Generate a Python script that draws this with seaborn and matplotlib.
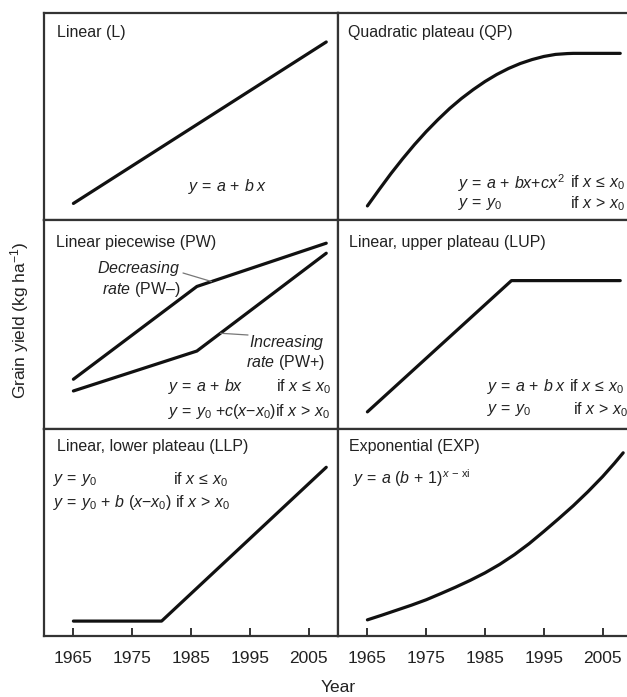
import matplotlib
matplotlib.use("Agg")
import matplotlib.pyplot as plt
import seaborn as sns
import pandas as pd
import numpy as np

# Datos (rendimiento relativo, 0-100 en cada panel)
anios_l = [1965, 2008]
valores_l = [8, 86]

anios_qp = [1965, 1967, 1969, 1971, 1973, 1975, 1977, 1979, 1981, 1983, 1985, 1987,
            1989, 1991, 1993, 1995, 1997, 1999, 2000, 2008]
valores_qp = [6.8, 14.7, 22.4, 29.6, 36.4, 42.7, 48.5, 53.9, 58.7, 63.0, 66.9, 70.3,
              73.2, 75.6, 77.5, 79.0, 80.0, 80.4, 80.5, 80.5]

anios_pw = [1965, 1986, 2008]
valores_pw_menos = [23.8, 68.2, 88.9]
valores_pw_mas = [18.2, 37.3, 84.1]

anios_lup = [1965, 1989.5, 2008]
valores_lup = [8.2, 71, 71]

anios_llp = [1965, 1980, 2008]
valores_llp = [7.2, 7.2, 81.5]

anios_exp = [1965, 1967.5, 1970, 1972.5, 1975, 1977.5, 1980, 1982.5, 1985, 1987.5,
             1990, 1992.5, 1995, 1997.5, 2000, 2002.5, 2005, 2007, 2008.5]
valores_exp = [7.8, 10.1, 12.5, 14.9, 17.5, 20.5, 23.6, 26.9, 30.5, 34.6,
               39.3, 44.6, 50.5, 56.6, 62.9, 69.7, 77.0, 83.4, 88.5]

ticks_anios = [1965, 1975, 1985, 1995, 2005]
titulos = ["Linear (L)", "Quadratic plateau (QP)", "Linear piecewise (PW)",
           "Linear, upper plateau (LUP)", "Linear, lower plateau (LLP)", "Exponential (EXP)"]

ANCHO, ALTO = 627, 697
COLOR_TEXTO = "#222222"
COLOR_MARCO = "#333333"


def configurar_estilo():
    """Estilo base del gráfico."""
    sns.set_style("white")
    plt.rcParams['font.family'] = ['Liberation Sans', 'DejaVu Sans']
    plt.rcParams['mathtext.fontset'] = 'custom'
    plt.rcParams['mathtext.rm'] = 'Liberation Sans'
    plt.rcParams['mathtext.it'] = 'Liberation Sans:italic'
    plt.rcParams['mathtext.bf'] = 'Liberation Sans:bold'


def texto(fig, px, py, s, ha='left', size=11.5, **kw):
    """Coloca texto usando coordenadas en píxeles (origen arriba a la izquierda)."""
    fig.text(px / ANCHO, 1 - py / ALTO, s, ha=ha, va='center', fontsize=size,
             color=COLOR_TEXTO, **kw)


def linea(ax, anios, valores):
    df = pd.DataFrame({'anio': anios, 'valor': valores})
    sns.lineplot(data=df, x='anio', y='valor', ax=ax, color='#111111', lw=2.3,
                 estimator=None, sort=False)


configurar_estilo()
fig = plt.figure(figsize=(ANCHO / 100, ALTO / 100), dpi=100)

# Bordes de filas y columnas (píxeles)
filas = [13, 220, 429, 636]
columnas = [44, 338, 632]

ejes = []
for f in range(3):
    for c in range(2):
        x0 = columnas[c] / ANCHO
        w = (columnas[c + 1] - columnas[c]) / ANCHO
        y0 = 1 - filas[f + 1] / ALTO
        h = (filas[f + 1] - filas[f]) / ALTO
        ax = fig.add_axes([x0, y0, w, h])
        for sp in ax.spines.values():
            sp.set_color(COLOR_MARCO)
            sp.set_linewidth(1.6)
        ejes.append(ax)

linea(ejes[0], anios_l, valores_l)
linea(ejes[1], anios_qp, valores_qp)
linea(ejes[2], anios_pw, valores_pw_menos)
linea(ejes[2], anios_pw, valores_pw_mas)
linea(ejes[3], anios_lup, valores_lup)
linea(ejes[4], anios_llp, valores_llp)
linea(ejes[5], anios_exp, valores_exp)

for i, ax in enumerate(ejes):
    ax.set_xlim(1960, 2010)
    ax.set_ylim(0, 100)
    ax.set_xlabel('')
    ax.set_ylabel('')
    ax.set_yticks([])
    if i >= 4:
        ax.set_xticks(ticks_anios)
        ax.set_xticklabels([str(t) for t in ticks_anios])
        ax.tick_params(axis='x', direction='in', length=6, width=1.4,
                       color=COLOR_MARCO, labelsize=12.5, pad=11,
                       labelcolor=COLOR_TEXTO, bottom=True)
    else:
        ax.set_xticks([])

# Títulos de los paneles
pos_titulos = [(57, 32), (348, 32), (56, 242), (349, 242), (57, 447), (349, 447)]
for t, (px, py) in zip(titulos, pos_titulos):
    texto(fig, px, py, t)

# Ecuaciones
texto(fig, 188, 187, r"$y\,=\,a\,+\,b\;x$")

texto(fig, 458, 183, r"$y\,=\,a\,+\,bx{+}cx^2$")
texto(fig, 570, 183, r"if $x\,\leq\,x_0$")
texto(fig, 458, 204, r"$y\,=\,y_0$")
texto(fig, 570, 204, r"if $x\,>\,x_0$")

texto(fig, 180, 268, r"$\mathit{Decreasing}$", ha='right')
texto(fig, 180, 290, r"$\mathit{rate}$ (PW–)", ha='right')
texto(fig, 325, 342, r"$\mathit{Increasing}$", ha='right')
texto(fig, 325, 363, r"$\mathit{rate}$ (PW+)", ha='right')
texto(fig, 168, 387, r"$y\,=\,a\,+\,bx$")
texto(fig, 276, 387, r"if $x\,\leq\,x_0$")
texto(fig, 168, 411, r"$y\,=\,y_0\ {+}c(x{-}x_0)$if $x\,>\,x_0$")

texto(fig, 487, 387, r"$y\,=\,a\,+\,b\;x$")
texto(fig, 569, 387, r"if $x\,\leq\,x_0$")
texto(fig, 487, 410, r"$y\,=\,y_0$")
texto(fig, 573, 410, r"if $x\,>\,x_0$")

texto(fig, 53, 480, r"$y\,=\,y_0$")
texto(fig, 173, 480, r"if $x\,\leq\,x_0$")
texto(fig, 53, 502, r"$y\,=\,y_0\,+\,b\ (x{-}x_0)$ if $x\,>\,x_0$")

texto(fig, 353, 478, r"$y\,=\,a\ (b\,+\,1)^{x\,-\,\mathrm{xi}}$")

# Líneas guía de las anotaciones del panel PW
guia = dict(arrowstyle='-', color='#777777', lw=0.9, shrinkA=0, shrinkB=0)
ejes[2].annotate("", xy=(1988.5, np.interp(1988.5, anios_pw, valores_pw_menos)),
                 xytext=(183 / ANCHO, 1 - 273 / ALTO), textcoords='figure fraction',
                 arrowprops=guia)
ejes[2].annotate("", xy=(1990, np.interp(1990, anios_pw, valores_pw_mas)),
                 xytext=(248 / ANCHO, 1 - 335 / ALTO), textcoords='figure fraction',
                 arrowprops=guia)

# Etiquetas de los ejes
texto(fig, 338, 687, "Year", ha='center', size=12.5)
fig.text(20 / ANCHO, 1 - 320 / ALTO, r"Grain yield (kg ha$^{-1}$)", rotation=90,
         ha='center', va='center', fontsize=12.5, color=COLOR_TEXTO)

fig.savefig("out.png", dpi=100)
